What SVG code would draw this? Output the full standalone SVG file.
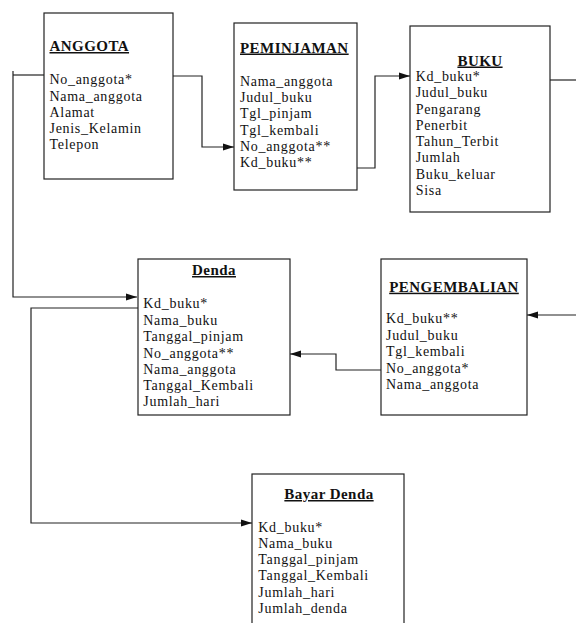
<svg xmlns="http://www.w3.org/2000/svg" width="576" height="623" viewBox="0 0 576 623">
<defs>
<marker id="arr" markerUnits="userSpaceOnUse" markerWidth="12" markerHeight="8" refX="11" refY="4" orient="auto">
<path d="M0,0.5 L11,4 L0,7.5 Z" fill="#111"/>
</marker>
<style>
.box{fill:#fff;stroke:#222;stroke-width:1.2}
.t{font-family:"Liberation Serif","Times New Roman",serif;font-size:15px;font-weight:bold;text-decoration:underline;letter-spacing:0.45px;fill:#111}
.f{font-family:"Liberation Serif","Times New Roman",serif;font-size:14px;letter-spacing:0.7px;fill:#111}
.c{text-anchor:middle}
.ln{fill:none;stroke:#222;stroke-width:1.2}
</style>
</defs>
<rect width="576" height="623" fill="#fff"/>
<g id="connectors">
<path class="ln" d="M173,76 H202 V147 H234" marker-end="url(#arr)"/>
<path class="ln" d="M357,168 H375 V76 H410" marker-end="url(#arr)"/>
<path class="ln" d="M546,80 H576"/>
<path class="ln" d="M44,75 H13"/>
<path class="ln" d="M13,71 V297 H137" marker-end="url(#arr)"/>
<path class="ln" d="M138,308 H31 V523 H252" marker-end="url(#arr)"/>
<path class="ln" d="M576,315 H527" marker-end="url(#arr)"/>
<path class="ln" d="M381,370 H336 V354 H290" marker-end="url(#arr)"/>
</g>
<g id="anggota">
<rect class="box" x="44" y="13" width="129" height="166"/>
<text class="t" x="49.5" y="51">ANGGOTA</text>
<text class="f" x="49.5" y="84">No_anggota*</text>
<text class="f" x="49.5" y="100.5">Nama_anggota</text>
<text class="f" x="49.5" y="116.7">Alamat</text>
<text class="f" x="49.5" y="133">Jenis_Kelamin</text>
<text class="f" x="49.5" y="149">Telepon</text>
</g>
<g id="peminjaman">
<rect class="box" x="234" y="23" width="123" height="167"/>
<text class="t" x="240" y="52.5">PEMINJAMAN</text>
<text class="f" x="240" y="86">Nama_anggota</text>
<text class="f" x="240" y="102">Judul_buku</text>
<text class="f" x="240" y="118.3">Tgl_pinjam</text>
<text class="f" x="240" y="135">Tgl_kembali</text>
<text class="f" x="240" y="150.7">No_anggota**</text>
<text class="f" x="240" y="166.7">Kd_buku**</text>
</g>
<g id="buku">
<rect class="box" x="410" y="26" width="140" height="186"/>
<text class="t c" x="480" y="65.5">BUKU</text>
<text class="f" x="415.7" y="81">Kd_buku*</text>
<text class="f" x="415.7" y="97.3">Judul_buku</text>
<text class="f" x="415.7" y="113.7">Pengarang</text>
<text class="f" x="415.7" y="130">Penerbit</text>
<text class="f" x="415.7" y="146">Tahun_Terbit</text>
<text class="f" x="415.7" y="162">Jumlah</text>
<text class="f" x="415.7" y="178.5">Buku_keluar</text>
<text class="f" x="415.7" y="194.7">Sisa</text>
</g>
<g id="denda">
<rect class="box" x="138" y="259" width="152" height="156"/>
<text class="t c" x="214" y="275">Denda</text>
<text class="f" x="143.3" y="308.3">Kd_buku*</text>
<text class="f" x="143.3" y="325">Nama_buku</text>
<text class="f" x="143.3" y="341">Tanggal_pinjam</text>
<text class="f" x="143.3" y="357.5">No_anggota**</text>
<text class="f" x="143.3" y="374">Nama_anggota</text>
<text class="f" x="143.3" y="390">Tanggal_Kembali</text>
<text class="f" x="143.3" y="406">Jumlah_hari</text>
</g>
<g id="pengembalian">
<rect class="box" x="381" y="259" width="146" height="156"/>
<text class="t c" x="454" y="291.7">PENGEMBALIAN</text>
<text class="f" x="386" y="323.3">Kd_buku**</text>
<text class="f" x="386" y="340">Judul_buku</text>
<text class="f" x="386" y="356">Tgl_kembali</text>
<text class="f" x="386" y="372.7">No_anggota*</text>
<text class="f" x="386" y="389">Nama_anggota</text>
</g>
<g id="bayar-denda">
<rect class="box" x="252" y="474" width="152" height="160"/>
<text class="t c" x="329" y="499">Bayar Denda</text>
<text class="f" x="258.3" y="531.7">Kd_buku*</text>
<text class="f" x="258.3" y="547.5">Nama_buku</text>
<text class="f" x="258.3" y="564">Tanggal_pinjam</text>
<text class="f" x="258.3" y="580">Tanggal_Kembali</text>
<text class="f" x="258.3" y="596.5">Jumlah_hari</text>
<text class="f" x="258.3" y="613">Jumlah_denda</text>
</g>
</svg>
